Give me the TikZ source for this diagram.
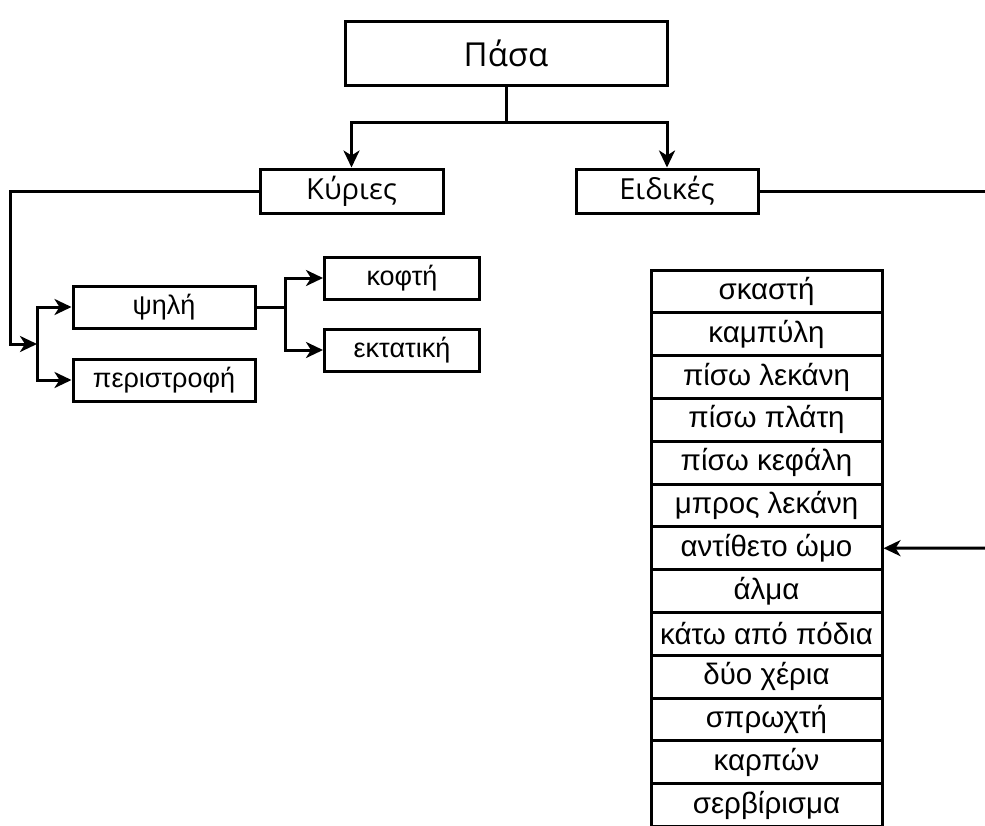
\documentclass[tikz,border=0pt]{standalone}
\usepackage{fontspec}
\setmainfont{Liberation Sans}
\newfontfamily\topfont{Open Sans}
\usepackage{tikz}
\usetikzlibrary{arrows.meta}
\usetikzlibrary{positioning}
\tikzset{font={\fontsize{27pt}{31pt}\selectfont}}

\begin{document}
\begin{tikzpicture}[x=1pt,y=-1pt,line width=3pt,
box/.style={draw,inner sep=0pt,minimum height=42pt},
topbox/.style={box,font={\topfont\fontsize{29pt}{34pt}\selectfont}},
arr/.style={-{Stealth[length=17pt,width=16pt,inset=5pt]}},
row/.style={draw,inner sep=0pt,minimum width=231pt,minimum height=42.8pt,font={\fontsize{29.5pt}{34pt}\selectfont}}
]
\useasboundingbox (0,0) rectangle (985,825);

\node[topbox,minimum width=322pt,minimum height=64pt,font={\topfont\fontsize{33pt}{38pt}\selectfont}] (pasa) at (506,53) {Πάσα};
\node[topbox,minimum width=183pt,minimum height=44pt] (kyr) at (351.5,191) {Κύριες};
\node[topbox,minimum width=182pt,minimum height=44pt] (eid) at (667,191) {Ειδικές};

\node[box,minimum width=182pt] (psili) at (164,307) {ψηλή};
\node[box,minimum width=182pt] (peri) at (164,380) {περιστροφή};
\node[box,minimum width=155pt] (kofti) at (402,278) {κοφτή};
\node[box,minimum width=155pt] (ekt) at (402,350) {εκτατική};

%list of special passes
\foreach \t [count=\i] in {σκαστή,καμπύλη,πίσω λεκάνη,πίσω πλάτη,πίσω κεφάλη,μπρος λεκάνη,αντίθετο ώμο,άλμα,κάτω από πόδια,δύο χέρια,σπρωχτή,καρπών,σερβίρισμα}
  \node[row] (s\i) at (766.5,{270+42.8*(\i-0.5)}) {\t};

\coordinate (j0) at (506,122);
\coordinate (j1) at (37,344);
\coordinate (j2) at (285,307);
\coordinate (eR) at (986,191);
\coordinate (aR) at (986,548);

\draw (pasa.south) -- (j0);
\draw[arr] (j0) -| (kyr.north);
\draw[arr] (j0) -| (eid.north);
\draw[arr] (kyr.west) -| (10,344) -- (j1);
\draw[arr] (j1) |- (psili.west);
\draw[arr] (j1) |- (peri.west);
\draw (psili.east) -- (j2);
\draw[arr] (j2) |- (kofti.west);
\draw[arr] (j2) |- (ekt.west);
\draw (eid.east) -- (eR);
\draw[arr] (aR) -- (s7.east);
\end{tikzpicture}
\end{document}
